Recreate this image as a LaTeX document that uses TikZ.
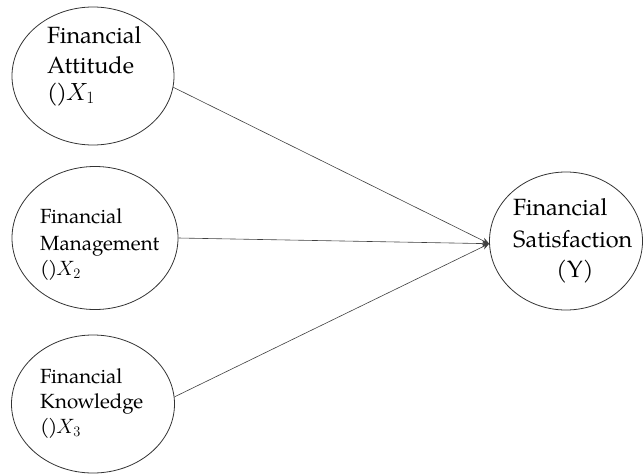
\documentclass[tikz,border=0pt]{standalone}
\usepackage{fontspec}
\setmainfont{TeX Gyre Pagella}
\usetikzlibrary{shapes.geometric,arrows.meta}
\newcommand{\emptypar}{(\kern-1.5pt)\kern-1pt}
\begin{document}
\begin{tikzpicture}[x=1pt,y=-1pt,
  var/.style={draw=black!80, line width=0.8pt, ellipse, inner sep=0pt},
  big/.style={anchor=base west, inner sep=0pt, font=\fontsize{23.5}{28}\selectfont},
  small/.style={anchor=base west, inner sep=0pt, font=\fontsize{20.5}{24}\selectfont},
  link/.style={draw=black!75, line width=0.6pt, -{Stealth[length=7pt,width=6pt]}}]
\useasboundingbox (0,0) rectangle (644,474);
\node[var, minimum width=162pt, minimum height=138pt] (a) at (93,76) {};
\node[var, minimum width=166pt, minimum height=143pt] (b) at (95,238) {};
\node[var, minimum width=163pt, minimum height=138pt] (c) at (93,404) {};
\node[var, minimum width=153pt, minimum height=138pt] (y) at (566,241) {};
\node[big] (a1) at (47,43) {Financial};
\node[big] (a2) at (47,73) {Attitude};
\node[big] (a3) at (47,100) {\emptypar$X_1$};
\node[small] (b1) at (40,223) {Financial};
\node[small] (b2) at (40,250) {Management};
\node[small] (b3) at (40,275) {\emptypar$X_2$};
\node[small] (c1) at (40,383) {Financial};
\node[small] (c2) at (40,408) {Knowledge};
\node[small] (c3) at (40,433) {\emptypar$X_3$};
\node[big] (y1) at (513,215) {Financial};
\node[big] (y2) at (513,247) {Satisfaction};
\node[big, anchor=base] (y3) at (575,277) {(Y)};
\draw[link] (a.-8) -- (y.182);
\draw[link] (b.east) -- (y.182);
\draw[link] (c.5) -- (y.182);
\end{tikzpicture}
\end{document}
